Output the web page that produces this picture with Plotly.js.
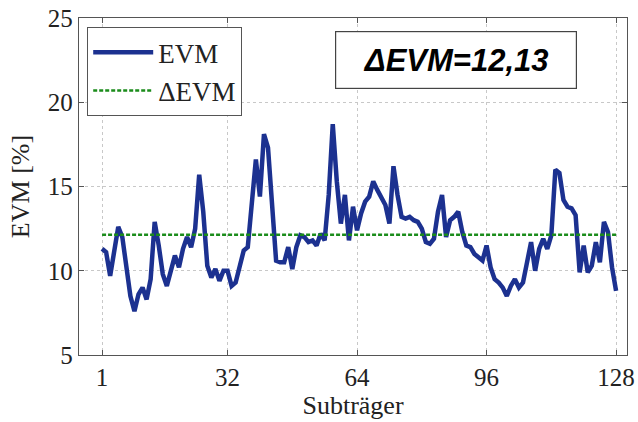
<!DOCTYPE html>
<html>
<head>
<meta charset="utf-8">
<script src="https://cdn.plot.ly/plotly-3.0.1.min.js"></script>
<style>html,body{margin:0;padding:0;background:#fff;}#chart{width:638px;height:422px;}</style>
</head>
<body>
<div id="chart"></div>
<script>
// Subcarrier index and EVM [%]
const subcarriers = [
  1,2,3,4,5,6,7,8,9,10,11,12,13,14,15,16,17,18,19,20,
  21,22,23,24,25,26,27,28,29,30,31,32,33,34,35,36,37,38,39,40,
  41,42,43,44,45,46,47,48,49,50,51,52,53,54,55,56,57,58,59,60,
  61,62,63,64,65,66,67,68,69,70,71,72,73,74,75,76,77,78,79,80,
  81,82,83,84,85,86,87,88,89,90,91,92,93,94,95,96,97,98,99,100,
  101,102,103,104,105,106,107,108,109,110,111,112,113,114,115,116,117,118,119,120,
  121,122,123,124,125,126,127,128
];
const evm = [
  11.3,11.1,9.7,11.0,12.6,12.0,10.1,8.5,7.6,8.6,9.0,8.3,9.5,12.9,11.5,9.8,9.1,10.0,10.9,10.2,
  11.3,12.0,11.4,12.5,15.7,13.5,10.3,9.6,10.1,9.4,10.0,10.0,9.1,9.3,10.3,11.2,11.4,14.0,16.6,14.4,
  18.1,17.3,14.0,10.6,10.5,10.5,11.4,10.1,11.4,12.1,12.0,11.7,11.8,11.5,12.2,11.8,14.5,18.7,15.3,12.8,
  14.5,11.8,13.8,12.4,13.4,14.1,14.4,15.3,14.8,14.4,13.9,12.8,16.2,14.5,13.2,13.1,13.2,13.0,12.9,12.5,
  11.7,11.6,11.9,13.5,14.5,12.0,13.0,13.2,13.5,12.3,11.5,11.4,11.0,10.8,10.6,11.5,10.2,9.5,9.3,9.0,
  8.5,9.1,9.5,9.0,9.3,10.5,11.7,10.0,11.3,11.9,11.3,12.1,16.0,15.8,14.2,13.8,13.7,13.3,9.9,11.5,
  9.9,10.3,11.7,10.5,12.9,12.3,10.2,8.8
];
const deltaEVM = 12.13;
const xTicks = [1, 32, 64, 96, 128];
const yTicks = [5, 10, 15, 20, 25];
const labels = {evm: 'EVM', delta: '\u0394EVM', box: '\u0394EVM=12,13', xTitle: 'Subträger', yTitle: 'EVM [%]'};

const serif = 'Liberation Serif, Times New Roman, serif';
const traces = [
  {x: subcarriers, y: evm, type: 'scatter', mode: 'lines', name: labels.evm,
   line: {color: '#1c3190', width: 4.5}},
  {x: [subcarriers[0], subcarriers[subcarriers.length-1]], y: [deltaEVM, deltaEVM],
   type: 'scatter', mode: 'lines', name: labels.delta,
   line: {color: '#1b8c1b', width: 2.5, dash: '4px,2px'}}
];
const axisCommon = {
  showline: true, linecolor: '#555', linewidth: 1.2, mirror: 'ticks',
  ticks: 'inside', ticklen: 5, tickcolor: '#555',
  showgrid: true, gridcolor: '#c8c8c8', griddash: 'dot', gridwidth: 1,
  zeroline: false, tickfont: {family: serif, size: 25, color: '#222'}
};
const layout = {
  width: 638, height: 422,
  margin: {l: 79, r: 11, t: 18, b: 67},
  paper_bgcolor: '#fff', plot_bgcolor: '#fff',
  showlegend: true,
  legend: {x: 0.0146, y: 0.973, xanchor: 'left', yanchor: 'top',
    bgcolor: '#fff', bordercolor: '#555', borderwidth: 1.2,
    font: {family: serif, size: 27, color: '#222'}, itemwidth: 60, tracegroupgap: 0},
  xaxis: Object.assign({}, axisCommon, {range: [-4.7, 130.7], tickvals: xTicks,
    ticktext: xTicks.map(String),
    title: {text: labels.xTitle, font: {family: serif, size: 26, color: '#222'}, standoff: 2}}),
  yaxis: Object.assign({}, axisCommon, {range: [5, 25], tickvals: yTicks,
    title: {text: labels.yTitle, font: {family: serif, size: 26, color: '#222'}, standoff: 10}}),
  annotations: [{
    xref: 'paper', yref: 'paper', x: 0.688, y: 0.875, xanchor: 'center', yanchor: 'middle',
    text: '<b><i>' + labels.box + '</i></b>', showarrow: false,
    font: {family: 'Liberation Sans, Arial, sans-serif', size: 31, color: '#000'},
    bgcolor: '#fff', bordercolor: '#444', borderwidth: 1.2, width: 238, height: 54
  }]
};
Plotly.newPlot('chart', traces, layout, {displayModeBar: false, staticPlot: true});
</script>
</body>
</html>
